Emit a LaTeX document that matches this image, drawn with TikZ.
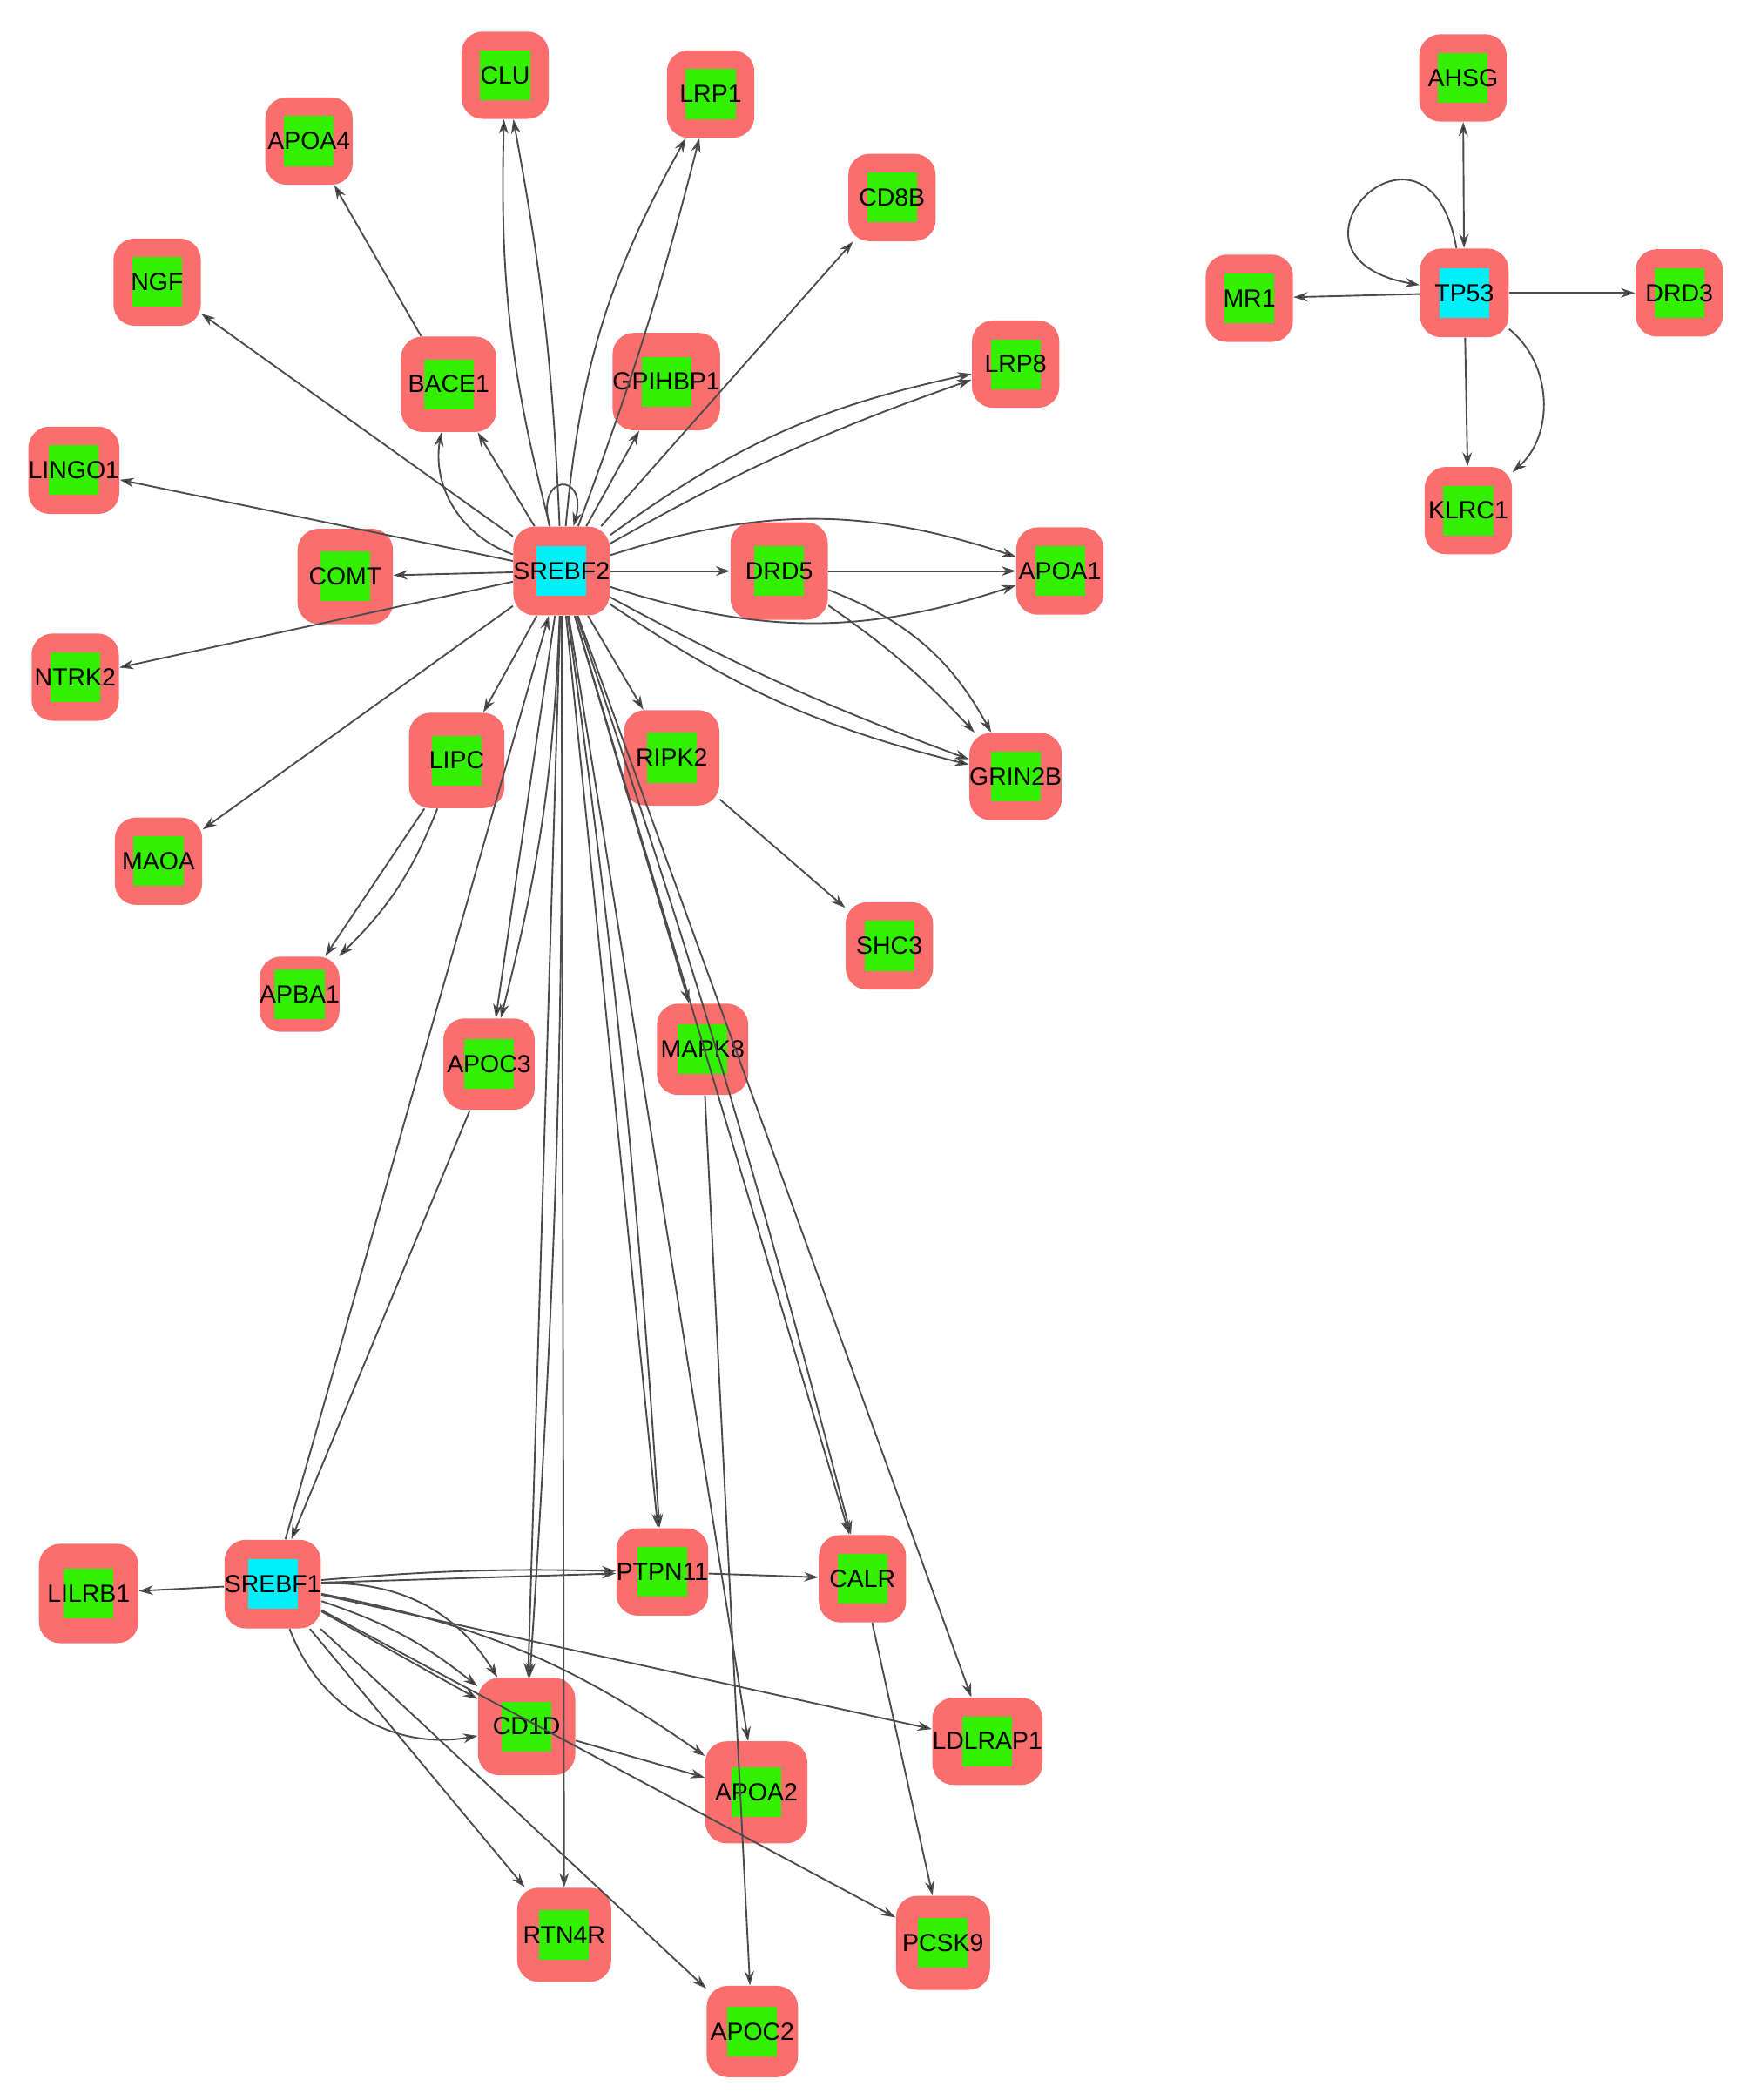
\documentclass[tikz,border=0pt]{standalone}
\usepackage{fontspec}
\setmainfont{Liberation Sans}
\usetikzlibrary{arrows.meta,positioning}
\definecolor{salmon}{RGB}{250,110,110}
\definecolor{lime}{RGB}{51,240,0}
\definecolor{hub}{RGB}{0,240,250}
\tikzset{arrows={-{Stealth[length=6pt,width=4pt]}}}
\tikzset{gene/.style={fill=salmon, rounded corners=9pt, minimum size=#1, inner sep=0pt,
    font=\fontsize{10.5}{13}\selectfont,
    path picture={\fill[lime, sharp corners] (path picture bounding box.center) +(-0.37cm,-0.37cm) rectangle +(0.37cm,0.37cm);}},
  gene/.default=1.3cm,
  hubgene/.style={fill=salmon, rounded corners=9pt, minimum size=1.32cm, inner sep=0pt,
    font=\fontsize{10.5}{13}\selectfont,
    path picture={\fill[hub, sharp corners] (path picture bounding box.center) +(-0.37cm,-0.37cm) rectangle +(0.37cm,0.37cm);}},
  link/.style={draw=black!70, line width=0.7pt}}

\begin{document}
\begin{tikzpicture}[x=0.02cm, y=-0.02cm]
    \useasboundingbox (0,0) rectangle (1300,1563);
    % left cluster around SREBF2
    \node[hubgene] (srebf2) at (418,425) {SREBF2};
    \node[gene] (clu) at (376,56) {CLU};
    \node[gene] (lrp1) at (529,70) {LRP1};
    \node[gene] (apoa4) at (230,105) {APOA4};
    \node[gene] (cd8b) at (664,147) {CD8B};
    \node[gene] (ngf) at (117,210) {NGF};
    \node[gene=1.42cm] (bace1) at (334,286) {BACE1};
    \node[gene=1.45cm] (gpihbp1) at (496,284) {GPIHBP1};
    \node[gene] (lrp8) at (756,271) {LRP8};
    \node[gene] (lingo1) at (55,350) {LINGO1};
    \node[gene=1.42cm] (comt) at (257,429) {COMT};
    \node[gene=1.45cm] (drd5) at (580,425) {DRD5};
    \node[gene] (apoa1) at (789,425) {APOA1};
    \node[gene] (ntrk2) at (56,504) {NTRK2};
    \node[gene=1.42cm] (lipc) at (340,566) {LIPC};
    \node[gene=1.42cm] (ripk2) at (500,564) {RIPK2};
    \node[gene] (grin2b) at (756,578) {GRIN2B};
    \node[gene] (maoa) at (118,641) {MAOA};
    \node[gene] (shc3) at (662,704) {SHC3};
    \node[gene=1.12cm] (apba1) at (223,740) {APBA1};
    \node[gene=1.36cm] (apoc3) at (364,792) {APOC3};
    \node[gene=1.36cm] (mapk8) at (523,781) {MAPK8};
    % lower cluster around SREBF1
    \node[hubgene] (srebf1) at (203,1179) {SREBF1};
    \node[gene=1.48cm] (lilrb1) at (66,1186) {LILRB1};
    \node[gene] (ptpn11) at (493,1170) {PTPN11};
    \node[gene] (calr) at (642,1175) {CALR};
    \node[gene=1.45cm] (cd1d) at (392,1285) {CD1D};
    \node[gene] (ldlrap1) at (735,1296) {LDLRAP1};
    \node[gene=1.52cm] (apoa2) at (563,1334) {APOA2};
    \node[gene=1.4cm] (rtn4r) at (420,1440) {RTN4R};
    \node[gene=1.4cm] (pcsk9) at (702,1446) {PCSK9};
    \node[gene=1.36cm] (apoc2) at (560,1512) {APOC2};
    % right cluster around TP53
    \node[hubgene] (tp53) at (1090,218) {TP53};
    \node[gene] (ahsg) at (1089,58) {AHSG};
    \node[gene] (mr1) at (930,222) {MR1};
    \node[gene] (drd3) at (1250,218) {DRD3};
    \node[gene] (klrc1) at (1093,380) {KLRC1};

    \path[link] (srebf2) edge [bend left=8] (clu)
          (srebf2) edge [bend left=-4] (clu)
          (srebf2) edge [bend left=12] (lrp1)
          (srebf2) edge [bend left=-3] (lrp1)
          (bace1) edge (apoa4)
          (srebf2) edge (ngf)
          (srebf2) edge (lingo1)
          (srebf2) edge (comt)
          (srebf2) edge (ntrk2)
          (srebf2) edge (maoa)
          (srebf2) edge (bace1)
          (srebf2) edge [bend left=40] (bace1)
          (srebf2) edge (gpihbp1)
          (srebf2) edge (cd8b)
          (srebf2) edge [bend left=12] (lrp8)
          (srebf2) edge [bend left=5] (lrp8)
          (srebf2) edge [loop above, looseness=6] (srebf2)
          (srebf2) edge (drd5)
          (srebf2) edge [bend left=18] (apoa1)
          (srebf2) edge [bend right=18] (apoa1)
          (drd5) edge (apoa1)
          (srebf2) edge [bend right=4] (grin2b)
          (srebf2) edge [bend right=10] (grin2b)
          (drd5) edge [bend left=20] (grin2b)
          (drd5) edge [bend left=6] (grin2b)
          (srebf2) edge (ripk2)
          (ripk2) edge (shc3)
          (srebf2) edge (lipc)
          (lipc) edge (apba1)
          (lipc) edge [bend left=12] (apba1)
          (srebf2) edge (apoc3)
          (srebf2) edge [bend left=6] (apoc3)
          (srebf2) edge (mapk8)
          (srebf2) edge (ptpn11)
          (srebf2) edge [bend left=2] (ptpn11)
          (srebf2) edge (calr)
          (srebf2) edge [bend left=2] (calr)
          (srebf2) edge (ldlrap1)
          (srebf2) edge (cd1d)
          (srebf2) edge [bend left=2] (cd1d)
          (srebf2) edge (rtn4r)
          (srebf2) edge (apoa2)
          (srebf1) edge (srebf2)
          (apoc3) edge (srebf1)
          (mapk8) edge (apoc2)
          (srebf1) edge (lilrb1)
          (srebf1) edge (ptpn11)
          (srebf1) edge [bend left=3] (ptpn11)
          (ptpn11) edge (calr)
          (srebf1) edge (cd1d)
          (srebf1) edge [bend left=30] (cd1d)
          (srebf1) edge [bend left=10] (cd1d)
          (srebf1) edge [bend right=40] (cd1d)
          (srebf1) edge (ldlrap1)
          (srebf1) edge [bend left=12] (apoa2)
          (cd1d) edge (apoa2)
          (srebf1) edge (rtn4r)
          (srebf1) edge (apoc2)
          (srebf1) edge (pcsk9)
          (calr) edge (pcsk9)
          (tp53) edge [{Stealth[length=6pt,width=4pt]}-{Stealth[length=6pt,width=4pt]}] (ahsg)
          (tp53) edge [loop left, out=100, in=170, looseness=8] (tp53)
          (tp53) edge (mr1)
          (tp53) edge (drd3)
          (tp53) edge (klrc1)
          (tp53) edge [bend left=50] (klrc1);
  \end{tikzpicture}
\end{document}
